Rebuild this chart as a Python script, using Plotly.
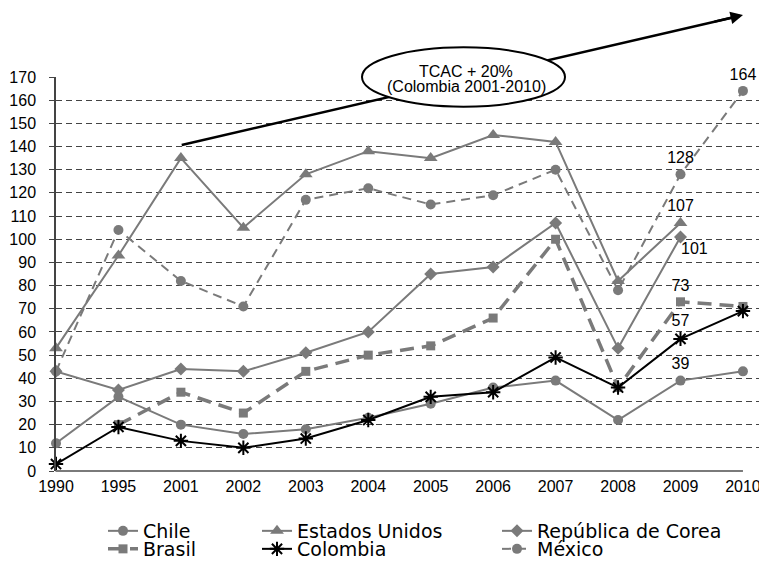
import plotly.graph_objects as go

years = ["1990", "1995", "2001", "2002", "2003", "2004", "2005", "2006", "2007", "2008", "2009", "2010"]
chile = [12, 32, 20, 16, 18, 23, 29, 36, 39, 22, 39, 43]
eeuu = [53, 93, 135, 105, 128, 138, 135, 145, 142, 82, 107, None]
corea = [43, 35, 44, 43, 51, 60, 85, 88, 107, 53, 101, None]
brasil = [None, 20, 34, 25, 43, 50, 54, 66, 100, 36, 73, 71]
mexico = [43, 104, 82, 71, 117, 122, 115, 119, 130, 78, 128, 164]
colombia = [3, 19, 13, 10, 14, 22, 32, 34, 49, 36, 57, 69]

y_ticks = list(range(0, 171, 10))
label_years = {"Chile": ["2009"], "Estados Unidos": ["2009"], "República de Corea": [],
               "Brasil": ["2009"], "México": ["2009", "2010"], "Colombia": ["2009"]}
corea_label_year = "2009"

GRAY = "#7a7a7a"
FONT = "Liberation Sans, Arial, sans-serif"
LEG_FONT = "DejaVu Sans, Liberation Sans, sans-serif"

# page body has an 8px margin; figure geometry in page px
BODY = 8
W, H = 759, 561
ML, MR, MT, MB = 48, 5, 69, 98
PW, PH = W - ML - MR, H - MT - MB
X_MAX = 11.305


def px_x(px):
    return (px - BODY - ML) / PW


def px_y(py):
    return (H - MB - (py - BODY)) / PH


def texts(name, vals):
    return [str(v) if (y in label_years[name] and v is not None) else "" for y, v in zip(years, vals)]


series = [
    ("Chile", chile, dict(symbol="circle", size=10, color=GRAY), dict(color=GRAY, width=2), "legend"),
    ("Estados Unidos", eeuu, dict(symbol="triangle-up", size=12, color=GRAY), dict(color=GRAY, width=2), "legend3"),
    ("República de Corea", corea, dict(symbol="diamond", size=10, color=GRAY), dict(color=GRAY, width=2), "legend5"),
    ("Brasil", brasil, dict(symbol="square", size=9, color=GRAY), dict(color=GRAY, width=3.5, dash="14px,8px"), "legend2"),
    ("México", mexico, dict(symbol="circle", size=10, color=GRAY), dict(color=GRAY, width=2, dash="9px,6px"), "legend6"),
    ("Colombia", colombia, dict(symbol="asterisk-open", size=12, color="black", line=dict(color="black", width=2)), dict(color="black", width=2), "legend4"),
]

fig = go.Figure()
for name, vals, marker, line, leg in series:
    fig.add_trace(go.Scatter(
        x=years, y=vals, name=name, mode="lines+markers+text",
        marker=marker, line=line, text=texts(name, vals), textposition="top center",
        textfont=dict(size=16, color="black", family=FONT),
        cliponaxis=False, legend=leg, connectgaps=False,
    ))

# legends: one per entry, laid out as 2 rows x 3 columns
leg_pos = {
    "legend": (143, 531), "legend2": (143, 549),
    "legend3": (297, 531), "legend4": (297, 549),
    "legend5": (537, 531), "legend6": (537, 549),
}
leg_layout = {}
for key, (tx, ty) in leg_pos.items():
    leg_layout[key] = dict(x=px_x(tx - 40), y=px_y(ty), xanchor="left", yanchor="middle",
                           orientation="v", font=dict(size=19, family=LEG_FONT, color="black"),
                           bgcolor="rgba(0,0,0,0)", tracegroupgap=0, itemwidth=30)

# decorations: trend arrow and ellipse
shapes = [
    dict(type="line", xref="paper", yref="paper", x0=px_x(181.7), y0=px_y(145), x1=px_x(735), y1=px_y(17),
         line=dict(color="black", width=2.5), layer="above"),
    dict(type="circle", xref="paper", yref="paper", x0=px_x(362), y0=px_y(106.7), x1=px_x(565), y1=px_y(47.3),
         line=dict(color="black", width=2), fillcolor="white", layer="above"),
    dict(type="line", xref="paper", yref="paper", x0=0, y0=0, x1=(len(years) - 1) / X_MAX, y1=0,
         line=dict(color=GRAY, width=2), layer="above"),
]
ci = years.index(corea_label_year)
annotations = [
    dict(xref="paper", yref="paper", x=px_x(743), y=px_y(15), ax=-30, ay=7, showarrow=True,
         arrowhead=2, arrowsize=1, arrowwidth=2.5, arrowcolor="black", text=""),
    dict(xref="paper", yref="paper", x=px_x(466), y=px_y(71.5), text="TCAC + 20%", showarrow=False,
         xanchor="center", yanchor="middle", font=dict(size=16, family=FONT, color="black")),
    dict(xref="paper", yref="paper", x=px_x(466), y=px_y(87), text="(Colombia 2001-2010)", showarrow=False,
         xanchor="center", yanchor="middle", font=dict(size=16, family=FONT, color="black")),
    dict(xref="x", yref="y", x=ci, y=corea[ci], text=str(corea[ci]), showarrow=False,
         xanchor="left", yanchor="top", xshift=-2, yshift=-1,
         font=dict(size=16, family=FONT, color="black")),
]

fig.update_layout(
    width=W, height=H, margin=dict(l=ML, r=MR, t=MT, b=MB, pad=0, autoexpand=False),
    paper_bgcolor="white", plot_bgcolor="white",
    font=dict(family=FONT, color="black"),
    showlegend=True, shapes=shapes, annotations=annotations,
    xaxis=dict(type="category", range=[0, X_MAX], showgrid=False, showline=False, zeroline=False,
               ticks="", tickfont=dict(size=16, family=FONT, color="black"), ticklabelstandoff=4),
    yaxis=dict(range=[0, 170], tickvals=y_ticks, showgrid=True, gridcolor="#444", griddash="6px,4px",
               gridwidth=1, zeroline=False, showline=True, linecolor="#444", linewidth=1.5,
               ticks="outside", ticklen=5, tickcolor="#444",
               tickfont=dict(size=16, family=FONT, color="black"), ticklabelstandoff=10),
    **leg_layout,
)

fig.write_html("out.html")
